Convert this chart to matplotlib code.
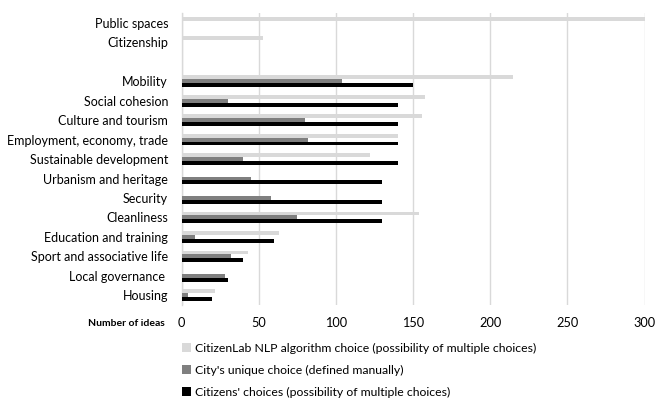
import matplotlib
matplotlib.use("Agg")
import matplotlib.pyplot as plt
import numpy as np
from matplotlib.patches import Patch

plt.rcParams['font.family'] = ['Lato', 'DejaVu Sans']

categories = ["Public spaces", "Citizenship", "", "Mobility", "Social cohesion",
              "Culture and tourism", "Employment, economy, trade",
              "Sustainable development", "Urbanism and heritage", "Security",
              "Cleanliness", "Education and training", "Sport and associative life",
              "Local governance ", "Housing"]

nlp_choice = [300, 53, 0, 215, 158, 156, 140, 122, 0, 0, 154, 63, 43, 0, 22]
city_choice = [0, 0, 0, 104, 30, 80, 82, 40, 45, 58, 75, 9, 32, 28, 4]
citizen_choice = [0, 0, 0, 150, 140, 140, 140, 140, 130, 130, 130, 60, 40, 30, 20]

series_labels = ["CitizenLab NLP algorithm choice (possibility of multiple choices)",
                 "City's unique choice (defined manually)",
                 "Citizens' choices (possibility of multiple choices)"]
colors = ["#d9d9d9", "#7f7f7f", "#000000"]

xticks = [0, 50, 100, 150, 200, 250, 300]

fig = plt.figure(figsize=(6.56, 3.98), dpi=100)
ax = fig.add_axes([0.2767, 0.2337, 0.7058, 0.7333])

y = np.arange(len(categories))
h = 0.2
for vals, off, c in zip([nlp_choice, city_choice, citizen_choice], [-h, 0, h], colors):
    ax.barh(y + off, vals, height=h, color=c, zorder=3)

ax.set_ylim(len(categories) - 0.5, -0.5)
ax.set_xlim(0, 300)
ax.set_xticks(xticks)
ax.set_yticks(y)
ax.set_yticklabels(categories, fontsize=9)
ax.tick_params(axis='x', length=0, labelsize=9.2, colors="#000000", pad=8.5)
ax.tick_params(axis='y', length=0, colors="#000000", pad=9.7)
ax.grid(axis='x', color="#d9d9d9", linewidth=1, zorder=0)
for s in ["top", "right", "bottom"]:
    ax.spines[s].set_visible(False)
ax.spines["left"].set_color("#d9d9d9")
ax.spines["left"].set_linewidth(1)

fig.text(165 / 656, 1 - 323 / 398, "Number of ideas", ha="right", va="center",
         fontsize=7.5, fontweight="bold")

handles = [Patch(facecolor=c, edgecolor='none') for c in colors]
fig.legend(handles, series_labels, loc="upper left",
           bbox_to_anchor=(182 / 656, 1 - 343 / 398), frameon=False,
           fontsize=8.8, handlelength=0.7, handleheight=0.7, handletextpad=0.4,
           labelspacing=0.88, borderaxespad=0, borderpad=0)

fig.savefig("out.png", dpi=100)
